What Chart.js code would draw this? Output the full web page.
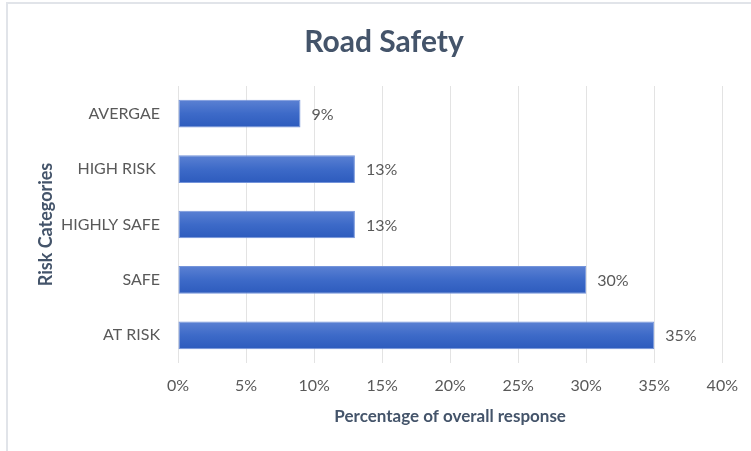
<!DOCTYPE html>
<html>
<head>
<meta charset="utf-8">
<script src="https://cdn.jsdelivr.net/npm/chart.js@4.4.0/dist/chart.umd.min.js"></script>
<style>
  html, body { margin: 0; padding: 0; background: #fff; }
  #wrap { position: absolute; left: 0; top: 0; width: 751px; height: 451px; }
  #frame { position: absolute; left: 6px; top: 2px; width: 745px; height: 449px;
           border-left: 2px solid #e1e4e9; border-top: 2px solid #e1e4e9; box-sizing: border-box; }
</style>
</head>
<body>
<div id="frame"></div>
<div id="wrap"><canvas id="myChart" width="751" height="451"></canvas></div>
<script>
var chartTitle = "Road Safety";
var categories = ["AVERGAE", "HIGH RISK ", "HIGHLY SAFE", "SAFE", "AT RISK"];
var responses = [9, 13, 13, 30, 35];
var xTicks = [0, 5, 10, 15, 20, 25, 30, 35, 40];

var FONT = "Lato, 'Open Sans', sans-serif";

// shaded bar fill, light on top and darker underneath
function barFill(context) {
  var chart = context.chart;
  var y = chart.scales.y;
  if (!chart.chartArea || !y || context.dataIndex === undefined) return "#3f6cc9";
  var cy = y.getPixelForValue(context.dataIndex);
  var half = Math.abs(y.getPixelForValue(1) - y.getPixelForValue(0)) * 0.25;
  var g = chart.ctx.createLinearGradient(0, cy - half, 0, cy + half);
  g.addColorStop(0, "#5b81d3");
  g.addColorStop(0.5, "#3d6ac8");
  g.addColorStop(1, "#2d5bbd");
  return g;
}

// title centred on the whole frame, not only the plot box
var frameTitle = {
  id: "frameTitle",
  afterDraw: function(chart) {
    var ctx = chart.ctx;
    ctx.save();
    ctx.font = "bold 30px " + FONT;
    ctx.fillStyle = "#44546a";
    ctx.textAlign = "center";
    ctx.textBaseline = "alphabetic";
    ctx.fillText(chartTitle, 384, 52);
    ctx.restore();
  }
};

// percentage labels to the right of each bar
var valueLabels = {
  id: "valueLabels",
  afterDatasetsDraw: function(chart) {
    var ctx = chart.ctx;
    var meta = chart.getDatasetMeta(0);
    ctx.save();
    ctx.font = "16px " + FONT;
    ctx.fillStyle = "#595959";
    ctx.textAlign = "left";
    ctx.textBaseline = "middle";
    meta.data.forEach(function(bar, i) {
      ctx.fillText(responses[i] + "%", bar.x + 11, bar.y + 1);
    });
    ctx.restore();
  }
};

var ctx = document.getElementById("myChart");
var myChart = new Chart(ctx, {
  type: "bar",
  data: {
    labels: categories,
    datasets: [{
      data: responses,
      backgroundColor: barFill,
      borderColor: "#7494da",
      borderWidth: 1,
      borderSkipped: false,
      categoryPercentage: 1,
      barPercentage: 0.5
    }]
  },
  options: {
    indexAxis: "y",
    responsive: false,
    animation: false,
    layout: { padding: { left: 0, right: 27, top: 86, bottom: 0 } },
    plugins: {
      legend: { display: false },
      tooltip: { enabled: false },
      title: { display: false }
    },
    scales: {
      x: {
        min: 0,
        max: 40,
        afterFit: function(scale) { scale.height = 88; },
        afterBuildTicks: function(scale) {
          scale.ticks = xTicks.map(function(v) { return { value: v }; });
        },
        ticks: {
          color: "#595959",
          font: { family: FONT, size: 16 },
          padding: 13,
          callback: function(v) { return v + "%"; }
        },
        grid: { color: "#e3e3e3", drawTicks: false },
        border: { display: false },
        title: {
          display: true,
          text: "Percentage of overall response",
          color: "#44546a",
          font: { family: FONT, size: 17, weight: "bold" },
          padding: { top: 4, bottom: 24 }
        }
      },
      y: {
        afterFit: function(scale) { scale.width = 178; },
        ticks: {
          color: "#595959",
          font: { family: FONT, size: 16 },
          padding: 18
        },
        grid: { display: false, drawTicks: false },
        border: { display: false },
        title: {
          display: true,
          text: "Risk Categories",
          color: "#44546a",
          font: { family: FONT, size: 18, weight: "bold" },
          padding: { top: 35, bottom: 4 }
        }
      }
    }
  },
  plugins: [valueLabels, frameTitle]
});
</script>
</body>
</html>
